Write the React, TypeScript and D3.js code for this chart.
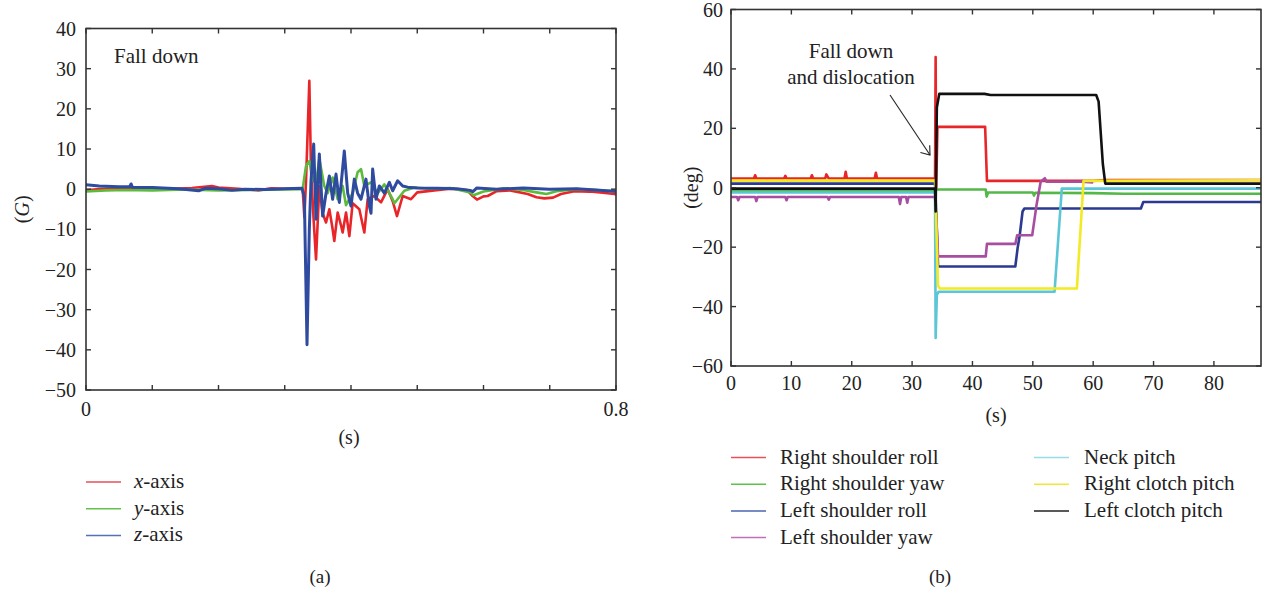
import React from "react";
import * as d3 from "d3";

type Pt = [number, number];

// ---------- Panel (a): acceleration (G) vs time (s) ----------
const aXTicks = [0, 0.1, 0.2, 0.3, 0.4, 0.5, 0.6, 0.7, 0.8];
const aXLabels = ["0", "", "", "", "", "", "", "", "0.8"];
const aYTicks = [40, 30, 20, 10, 0, -10, -20, -30, -40, -50];

const xAxisSeries: Pt[] = [
  [0, -0.3], [0.02, 0], [0.05, 0.2], [0.08, 0], [0.1, 0.3], [0.13, 0.1], [0.16, 0.3], [0.19, 0.8], [0.2, 0.4],
  [0.23, 0.1], [0.26, -0.3], [0.28, 0.2], [0.3, 0.1], [0.327, 0.2], [0.3296, -7], [0.3321, 2], [0.3371, 27],
  [0.3396, 5], [0.3437, -8], [0.3472, -17.5], [0.3522, 0.8], [0.3572, -6], [0.3623, -8.3], [0.3673, -5],
  [0.3723, -10], [0.3748, -12.9], [0.3799, -5.8], [0.3849, -9], [0.3874, -10.8], [0.3925, -5.8], [0.3975, -11.7],
  [0.4025, -3.5], [0.4126, -5], [0.4201, -10.8], [0.4252, -2.5], [0.4352, -1.7], [0.4453, -3.3], [0.4554, 0],
  [0.4629, -3], [0.4694, -6.7], [0.478, -1.7], [0.4906, -2.5], [0.5, -0.8], [0.5258, -0.3], [0.55, 0.1],
  [0.575, -0.2], [0.5836, -1.7], [0.5902, -2.6], [0.6, -1.8], [0.6063, -1.7], [0.62, -0.5], [0.64, -0.3],
  [0.6667, -1.2], [0.68, -2], [0.6918, -2.3], [0.705, -2.1], [0.717, -1.2], [0.737, -0.5], [0.76, -0.6],
  [0.78, -0.9], [0.7975, -1.2], [0.8, -1.3],
];
const yAxisSeries: Pt[] = [
  [0, -0.6], [0.03, -0.3], [0.06, -0.2], [0.1, -0.3], [0.15, -0.1], [0.2, -0.3], [0.25, -0.2], [0.3, -0.1],
  [0.327, 0], [0.3321, 5.8], [0.3371, 7], [0.3396, 5], [0.3437, 2], [0.3472, 1.7], [0.3522, 7.5], [0.3597, 0.8],
  [0.3648, -1], [0.3723, 2.9], [0.3799, -2.5], [0.3874, 0.8], [0.3925, -4], [0.4025, -1], [0.41, 4.2],
  [0.4151, 5], [0.4201, 0.8], [0.4302, 1.7], [0.4403, -1], [0.4503, 1.2], [0.4629, -2.5], [0.4655, -3.5],
  [0.4805, -0.4], [0.4956, 0.4], [0.52, 0.1], [0.55, 0.3], [0.58, -0.8], [0.585, -1.5], [0.6, -0.6],
  [0.63, 0.2], [0.66, -0.2], [0.68, -0.8], [0.695, -1.2], [0.71, -0.5], [0.74, 0], [0.77, -0.2], [0.8, -0.5],
];
const zAxisSeries: Pt[] = [
  [0, 1.1], [0.02, 0.8], [0.05, 0.6], [0.066, 0.6], [0.068, 1.3], [0.07, 0.5], [0.1, 0.4], [0.14, 0.1],
  [0.17, -0.4], [0.18, 0.2], [0.2, 0.1], [0.22, -0.3], [0.24, 0], [0.27, -0.1], [0.3, 0.1], [0.326, 0.2],
  [0.3296, -2], [0.3336, -38.75], [0.3371, -10], [0.3396, 2], [0.3437, 11.25], [0.3472, -7.5], [0.3522, 8.75],
  [0.3572, -6.7], [0.3623, -1], [0.3673, 3.3], [0.3723, -2.5], [0.3774, 3.75], [0.3824, -3.3], [0.3899, 9.5],
  [0.395, -1], [0.4, -4.2], [0.405, 2.5], [0.41, -1], [0.4151, -2.5], [0.4226, 2.5], [0.4277, -4.2],
  [0.4302, -6], [0.4327, 5], [0.4377, -2.5], [0.4428, 0.8], [0.4503, -1], [0.4579, 1.7], [0.4629, -0.4],
  [0.4704, 2.1], [0.478, 0.8], [0.4855, 0.5], [0.5, 0.3], [0.53, 0.2], [0.56, 0.1], [0.58, -0.3],
  [0.584, -0.6], [0.59, 0.3], [0.62, 0], [0.66, 0.3], [0.7, 0], [0.74, 0.1], [0.77, -0.2], [0.8, -0.6],
];
const aSeriesNames = ["x", "y", "z"];
const aColors = ["#e8262a", "#5cba3c", "#2f4ba0"];
const aLegendColors = ["#e5505a", "#62c24a", "#5572b3"];

// ---------- Panel (b): joint angles (deg) vs time (s) ----------
const bXTicks = [0, 10, 20, 30, 40, 50, 60, 70, 80];
const bYTicks = [60, 40, 20, 0, -20, -40, -60];

const rightShoulderRoll: Pt[] = [
  [0, 3.1], [3.8, 3.1], [4, 4.2], [4.2, 3.1], [8.8, 3.1], [9, 4], [9.2, 3.1], [13.2, 3.1], [13.4, 4.2],
  [13.6, 3.1], [15.6, 3.1], [15.8, 4.5], [16.2, 3.1], [18.8, 3.1], [19, 5.4], [19.2, 3.1], [23.8, 3.1],
  [24, 5], [24.2, 3.1], [33.8, 3.1], [33.9, 44], [34.0, 0], [34.2, 20.5], [42.1, 20.5], [42.4, 2.3],
  [60, 2.3], [62, 2.6], [87.8, 2.6],
];
const rightShoulderYaw: Pt[] = [
  [0, -1.2], [33.8, -1.2], [34.0, -0.6], [42.2, -0.6], [42.35, -3], [42.6, -1.6], [50, -1.6], [50.2, -2.6],
  [50.4, -1.7], [60, -1.8], [65, -2], [87.8, -2],
];
const leftShoulderRoll: Pt[] = [
  [0, 1.4], [33.8, 1.4], [34.0, -8], [34.3, -26.5], [47.1, -26.5], [47.5, -20], [47.8, -16.5], [48.3, -8],
  [48.6, -7], [67.9, -7], [68.3, -4.8], [87.8, -4.8],
];
const leftShoulderYaw: Pt[] = [
  [0, -3.1], [1, -3.1], [1.2, -4.2], [1.4, -3.1], [4, -3.1], [4.2, -4.5], [4.4, -3.1], [9, -3.1], [9.2, -4.2],
  [9.4, -3.1], [16, -3.1], [16.2, -4], [16.4, -3.1], [27.8, -3.1], [28, -5.5], [28.2, -3.1], [29, -3.1],
  [29.2, -5], [29.4, -3.1], [33.8, -3.1], [34.0, -10], [34.3, -23.1], [42.2, -23.1], [42.4, -18.9],
  [47.1, -18.9], [47.4, -16], [49.9, -16], [50.6, -6], [51.3, 2], [52, 3.2], [52.3, 2], [58, 2], [60, 1.8],
];
const neckPitch: Pt[] = [
  [0, -1.6], [33.8, -1.6], [33.9, -50.6], [34.1, -36], [34.4, -35], [53.6, -35], [54.8, -0.3], [87.8, -0.3],
];
const rightClotchPitch: Pt[] = [
  [0, 2.4], [33.8, 2.4], [33.95, -8], [34.3, -33], [34.6, -33.9], [57.3, -33.9], [58.4, 2.3], [87.8, 2.5],
];
const leftClotchPitch: Pt[] = [
  [0, -0.3], [33.8, -0.3], [33.9, -8], [34.1, 27], [34.5, 31.6], [42, 31.6], [43, 31.2], [60.5, 31.2],
  [60.9, 29], [61.6, 8], [62, 1.4], [87.8, 1.4],
];

const bSeriesNames = [
  "Right shoulder roll", "Right shoulder yaw", "Left shoulder roll", "Left shoulder yaw",
  "Neck pitch", "Right clotch pitch", "Left clotch pitch",
];
const bColors = ["#e8262a", "#53b848", "#2b3990", "#a84ea0", "#5bc6d6", "#f2ea24", "#111111"];
const bLegendColors = ["#e8505a", "#5cc24a", "#4a64b0", "#c070b8", "#98dce6", "#f0e830", "#222222"];

const FONT = "'Liberation Serif', 'Times New Roman', serif";
const FS = 20;
const FL = 21;
const frameColor = "#333";

export default function App() {
  // ----- panel a scales -----
  const ax = d3.scaleLinear().domain([0, 0.8]).range([86, 616]);
  const ay = d3.scaleLinear().domain([-50, 40]).range([390, 28.5]);
  const aLine = d3.line<Pt>().x((d) => ax(d[0])).y((d) => ay(d[1]));
  const aData = [xAxisSeries, yAxisSeries, zAxisSeries];

  // ----- panel b scales -----
  const bx = d3.scaleLinear().domain([0, 87.8]).range([731, 1261]);
  const by = d3.scaleLinear().domain([-60, 60]).range([366, 9.5]);
  const bLine = d3.line<Pt>().x((d) => bx(d[0])).y((d) => by(d[1]));
  const bData = [
    rightShoulderRoll, rightShoulderYaw, leftShoulderRoll, leftShoulderYaw,
    neckPitch, rightClotchPitch, leftClotchPitch,
  ];

  const tk = 5;
  const fmt = (v: number) => (v < 0 ? "\u2212" + Math.abs(v) : String(v));

  return (
    <svg
      width={1264}
      height={590}
      style={{ position: "absolute", left: 0, top: 0, background: "#fff" }}
      fontFamily={FONT}
    >
      <rect width={1264} height={590} fill="#fff" />

      {/* ===== Panel (a) ===== */}
      <g>
        {aData.map((d, i) => (
          <path key={i} d={aLine(d) || ""} fill="none" stroke={aColors[i]} strokeWidth={i === 2 ? 3 : 2.6}
            strokeLinejoin="round" />
        ))}
        <rect x={ax(0)} y={ay(40)} width={ax(0.8) - ax(0)} height={ay(-50) - ay(40)} fill="none"
          stroke={frameColor} strokeWidth={1.6} />
        {aXTicks.map((t, i) => (
          <g key={"ax" + i}>
            <line x1={ax(t)} x2={ax(t)} y1={ay(-50)} y2={ay(-50) - tk} stroke={frameColor} strokeWidth={1.4} />
            <line x1={ax(t)} x2={ax(t)} y1={ay(40)} y2={ay(40) + tk} stroke={frameColor} strokeWidth={1.4} />
            {aXLabels[i] && (
              <text x={ax(t)} y={416} textAnchor="middle" fontSize={FS} fill="#222">{aXLabels[i]}</text>
            )}
          </g>
        ))}
        {aYTicks.map((v) => (
          <g key={"ay" + v}>
            <line x1={ax(0)} x2={ax(0) + tk} y1={ay(v)} y2={ay(v)} stroke={frameColor} strokeWidth={1.4} />
            <line x1={ax(0.8)} x2={ax(0.8) - tk} y1={ay(v)} y2={ay(v)} stroke={frameColor} strokeWidth={1.4} />
            <text x={76} y={ay(v) + 7} textAnchor="end" fontSize={FS} fill="#222">{fmt(v)}</text>
          </g>
        ))}
        <text x={114} y={63} fontSize={FL} fill="#222">Fall down</text>
        <text x={349} y={444} textAnchor="middle" fontSize={FS} fill="#222">(s)</text>
        <text transform={`translate(29,${(ay(40) + ay(-50)) / 2}) rotate(-90)`} textAnchor="middle"
          fontSize={FS} fill="#222">
          (<tspan fontStyle="italic">G</tspan>)
        </text>

        {/* legend a */}
        {aSeriesNames.map((n, i) => (
          <g key={"la" + i}>
            <line x1={86} x2={121} y1={482 + i * 26.7} y2={482 + i * 26.7} stroke={aLegendColors[i]} strokeWidth={1.5} />
            <text x={134} y={488 + i * 26.7} fontSize={FL} fill="#222">
              <tspan fontStyle="italic">{n}</tspan>-axis
            </text>
          </g>
        ))}
        <text x={320} y={583} textAnchor="middle" fontSize={FS - 1} fill="#222">(a)</text>
      </g>

      {/* ===== Panel (b) ===== */}
      <g>
        {bData.map((d, i) => (
          <path key={i} d={bLine(d) || ""} fill="none" stroke={bColors[i]} strokeWidth={2.6}
            strokeLinejoin="round" />
        ))}
        <rect x={bx(0)} y={by(60)} width={bx(87.8) - bx(0)} height={by(-60) - by(60)} fill="none"
          stroke={frameColor} strokeWidth={1.6} />
        {bXTicks.map((t) => (
          <g key={"bx" + t}>
            <line x1={bx(t)} x2={bx(t)} y1={by(-60)} y2={by(-60) - tk} stroke={frameColor} strokeWidth={1.4} />
            <line x1={bx(t)} x2={bx(t)} y1={by(60)} y2={by(60) + tk} stroke={frameColor} strokeWidth={1.4} />
            <text x={bx(t)} y={390} textAnchor="middle" fontSize={FS} fill="#222">{t}</text>
          </g>
        ))}
        {bYTicks.map((v) => (
          <g key={"by" + v}>
            <line x1={bx(0)} x2={bx(0) + tk} y1={by(v)} y2={by(v)} stroke={frameColor} strokeWidth={1.4} />
            <line x1={bx(87.8)} x2={bx(87.8) - tk} y1={by(v)} y2={by(v)} stroke={frameColor} strokeWidth={1.4} />
            <text x={723} y={by(v) + 7} textAnchor="end" fontSize={FS} fill="#222">{fmt(v)}</text>
          </g>
        ))}
        <text x={996} y={422} textAnchor="middle" fontSize={FS} fill="#222">(s)</text>
        <text transform={`translate(698,${(by(60) + by(-60)) / 2}) rotate(-90)`} textAnchor="middle"
          fontSize={FS} fill="#222">(deg)</text>

        {/* annotation */}
        <text x={851} y={58} textAnchor="middle" fontSize={FL} fill="#222">Fall down</text>
        <text x={851} y={84} textAnchor="middle" fontSize={FL} fill="#222">and dislocation</text>
        <line x1={890} y1={95} x2={930} y2={155} stroke="#222" strokeWidth={1.1} />
        <path d={`M ${930 - 9.6} ${155 - 2.5} L 930 155 L ${930 - 0.3} ${155 - 9.8}`} fill="none" stroke="#222"
          strokeWidth={1.1} />

        {/* legend b */}
        {bSeriesNames.map((n, i) => {
          const col = i < 4 ? 0 : 1;
          const row = i < 4 ? i : i - 4;
          const lx = col === 0 ? 731 : 1034;
          const tx = col === 0 ? 780 : 1084;
          const yy = 457.5 + row * 26.7;
          return (
            <g key={"lb" + i}>
              <line x1={lx} x2={lx + 35} y1={yy} y2={yy} stroke={bLegendColors[i]} strokeWidth={1.5} />
              <text x={tx} y={yy + 6} fontSize={FL} fill="#222">{n}</text>
            </g>
          );
        })}
        <text x={940} y={583} textAnchor="middle" fontSize={FS - 1} fill="#222">(b)</text>
      </g>
    </svg>
  );
}
